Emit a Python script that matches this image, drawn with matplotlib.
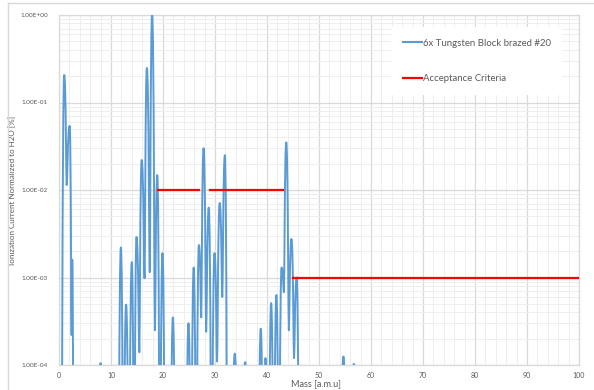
import numpy as np
import matplotlib
matplotlib.use("Agg")
import matplotlib.pyplot as plt
from matplotlib.path import Path
from matplotlib.patches import PathPatch
from matplotlib.lines import Line2D
from matplotlib.ticker import FuncFormatter, MultipleLocator, LogLocator

plt.rcParams['font.family'] = ['Lato', 'DejaVu Sans']

# ---- Data (mass [amu], normalized ionization current) ----
# Vertices of the measured spectrum: peak tops and the valleys/feet between them.
mass = [0.45, 1.0, 1.48, 2.05, 2.42, 2.55, 2.8,
        7.7, 8.0, 8.3,
        11.4, 11.9, 12.4, 12.9, 13.45, 14.0, 14.45, 14.9, 15.45, 15.9, 16.45, 16.9,
        17.45, 17.9, 18.45, 18.9, 19.4, 19.9, 20.4,
        21.4, 21.9, 22.4,
        24.4, 24.9, 25.4, 25.9, 26.4, 26.9, 27.35, 27.8, 28.3, 28.8, 29.35, 29.9,
        30.4, 30.9, 31.4, 31.9, 32.4,
        33.5, 33.8, 34.1,
        35.5, 35.8, 36.1,
        38.3, 38.8, 39.3, 39.7, 40.3, 40.8, 41.3, 41.8, 42.3, 42.8, 43.25, 43.7,
        44.2, 44.7, 45.2, 45.7, 46.2,
        54.4, 54.7, 55.0,
        56.5, 56.7, 56.9]
intensity = [1e-6, 0.206, 0.0114, 0.054, 2.2e-4, 1.6e-3, 1e-6,
             5e-5, 1.05e-4, 5e-5,
             1e-6, 2.2e-3, 1e-6, 4.9e-4, 1e-6, 1.5e-3, 1e-6, 2.9e-3, 1.4e-4, 0.022, 9.8e-4, 0.248,
             1.15e-3, 1.0, 2.5e-4, 0.0148, 1e-6, 1.9e-3, 1e-6,
             1e-6, 3.5e-4, 1e-6,
             1e-6, 3.0e-4, 1e-6, 1.3e-3, 1e-6, 2.35e-3, 3.5e-4, 0.030, 2.4e-4, 6.3e-3, 1e-6, 1.9e-3,
             1.1e-4, 7.1e-3, 6.0e-4, 0.025, 1e-6,
             5e-5, 1.35e-4, 5e-5,
             5e-5, 1.08e-4, 5e-5,
             1e-6, 2.6e-4, 1e-6, 1.2e-4, 1e-6, 5.1e-4, 1e-6, 6.3e-4, 1e-6, 1.3e-3, 6.8e-4, 0.035,
             2.5e-4, 2.75e-3, 1.2e-4, 1.0e-3, 1e-6,
             5e-5, 1.25e-4, 5e-5,
             5e-5, 1.03e-4, 5e-5]

# Acceptance criteria (segments separated by gaps)
crit_mass = [19, 27, np.nan, 29, 43, np.nan, 45, 100]
crit_value = [1e-2, 1e-2, np.nan, 1e-2, 1e-2, np.nan, 1e-3, 1e-3]

series_label = "6x Tungsten Block brazed #20"
crit_label = "Acceptance Criteria"
x_label = "Mass [a.m.u]"
y_label = "Ionization Current Normalized to H2O [%]"
x_ticks = [0, 10, 20, 30, 40, 50, 60, 70, 80, 90, 100]
y_ticks = [1e-4, 1e-3, 1e-2, 1e-1, 1e0]

BLUE = "#5B9BD5"
RED = "#FF0000"
GRID = "#D9D9D9"
MINOR = "#EEEEEE"
TXT = "#595959"

fig = plt.figure(figsize=(5.94, 3.90), dpi=100)
ax = fig.add_axes([59/594, 25/390, 520/594, 350/390])
ax.set_yscale('log')
ax.set_xlim(0, 100)
ax.set_ylim(1e-4, 1)

# smoothed line (Excel-like) through the spectrum vertices, built in log space
lx = np.asarray(mass, float)
ly = np.log10(np.asarray(intensity, float))
n = len(lx)
is_top = np.zeros(n, bool)
for i in range(1, n - 1):
    is_top[i] = ly[i] > ly[i-1] and ly[i] > ly[i+1]
a_top, a_low = 0.65, 0.2
verts = [(lx[0], ly[0])]
codes = [Path.MOVETO]
for i in range(n - 1):
    dx = lx[i+1] - lx[i]
    a0 = a_top if is_top[i] else a_low
    a1 = a_top if is_top[i+1] else a_low
    verts += [(lx[i] + a0*dx, ly[i]), (lx[i+1] - a1*dx, ly[i+1]), (lx[i+1], ly[i+1])]
    codes += [Path.CURVE4]*3
verts = np.array(verts)
verts[:, 1] = 10**verts[:, 1]
patch = PathPatch(Path(verts, codes), facecolor='none', edgecolor=BLUE, lw=1.4,
                  transform=ax.transData, zorder=3, capstyle='round', joinstyle='round')
ax.add_patch(patch)

ax.plot(crit_mass, crit_value, color=RED, lw=1.6, zorder=4)

# grid
ax.xaxis.set_major_locator(MultipleLocator(10))
ax.xaxis.set_minor_locator(MultipleLocator(2))
ax.yaxis.set_major_locator(LogLocator(base=10, numticks=10))
ax.yaxis.set_minor_locator(LogLocator(base=10, subs=np.arange(2, 10), numticks=10))
ax.set_xticks(x_ticks)
ax.set_yticks(y_ticks)
ax.grid(True, which='major', color=GRID, lw=0.9, zorder=0)
ax.grid(True, which='minor', color=MINOR, lw=0.7, zorder=0)
ax.set_axisbelow(True)
for s in ax.spines.values():
    s.set_color(GRID)
    s.set_linewidth(0.9)

ax.yaxis.set_major_formatter(FuncFormatter(lambda v, p: f"{v:.2E}"))
ax.yaxis.set_minor_formatter(FuncFormatter(lambda v, p: ""))
ax.tick_params(which='both', length=0)
ax.tick_params(axis='y', pad=8, labelsize=4.6, labelcolor=TXT)
ax.tick_params(axis='x', pad=5, labelsize=5.0, labelcolor=TXT)

ax.set_xlabel(x_label, fontsize=6.6, color=TXT)
ax.xaxis.set_label_coords((316-59)/520, (365-384)/350)
ax.xaxis.label.set_va('center')
ax.set_ylabel(y_label, fontsize=5.8, color=TXT)
ax.yaxis.set_label_coords((13-59)/520, 0.5)
ax.yaxis.label.set_va('center')

handles = [Line2D([], [], color=BLUE, lw=1.5), Line2D([], [], color=RED, lw=1.6)]
leg = ax.legend(handles, [series_label, crit_label], loc='upper left',
                bbox_to_anchor=((391-59)/520, 1 - (27-15)/350), borderaxespad=0,
                fontsize=6.9, frameon=True, fancybox=False, framealpha=1,
                facecolor='white', edgecolor='none', labelspacing=2.8,
                handlelength=2.0, handletextpad=0.1, borderpad=1.2)
for t in leg.get_texts():
    t.set_color(TXT)

# chart-area border (left and top visible in the reference)
fig.add_artist(Line2D([8/594, 8/594], [0, 1 - 3/390], transform=fig.transFigure, color=GRID, lw=1.0))
fig.add_artist(Line2D([8/594, 1], [1 - 3/390, 1 - 3/390], transform=fig.transFigure, color=GRID, lw=1.0))

fig.savefig("out.png", dpi=100, facecolor='white')
